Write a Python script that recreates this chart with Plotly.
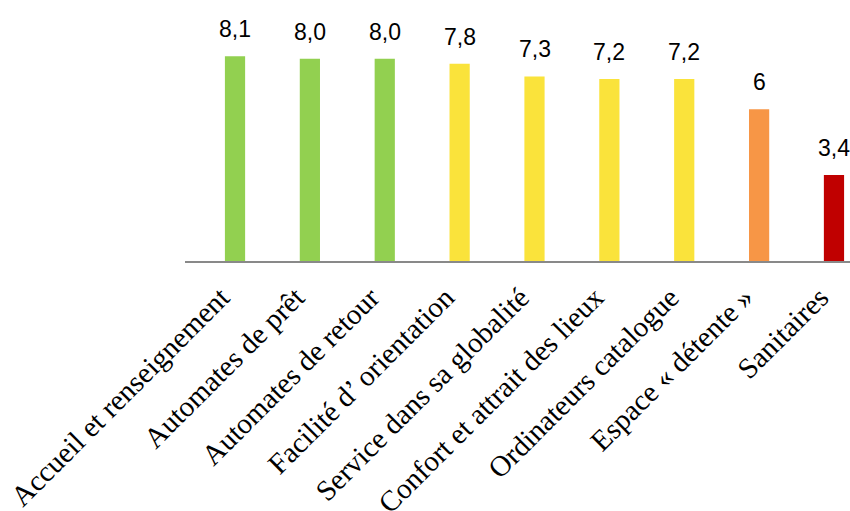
import plotly.graph_objects as go

categories = ["Accueil et renseignement", "Automates de prêt", "Automates de retour",
              "Facilité d’ orientation", "Service dans sa globalité",
              "Confort et attrait des lieux", "Ordinateurs catalogue",
              "Espace « détente »", "Sanitaires"]
values = [8.1, 8.0, 8.0, 7.8, 7.3, 7.2, 7.2, 6.0, 3.4]
value_labels = ["8,1", "8,0", "8,0", "7,8", "7,3", "7,2", "7,2", "6", "3,4"]
colors = ["#92D050", "#92D050", "#92D050", "#FAE33B", "#FAE33B", "#FAE33B",
          "#FAE33B", "#F79646", "#C00000"]

x = list(range(len(categories)))

fig = go.Figure()
fig.add_trace(go.Bar(x=x, y=values, marker=dict(color=colors, line=dict(width=0)),
                     width=0.27, hoverinfo="skip"))

for xi, v, lab in zip(x, values, value_labels):
    fig.add_annotation(x=xi, y=v, text=lab, showarrow=False, yanchor="bottom",
                       yshift=12, font=dict(family="Liberation Sans", size=23, color="#000000"))

fig.update_layout(
    width=850, height=511,
    margin=dict(l=185, r=0, t=0, b=250),
    paper_bgcolor="white", plot_bgcolor="white",
    showlegend=False,
    xaxis=dict(range=[-0.668, 8.214], tickmode="array", tickvals=x, ticktext=categories,
               tickangle=-45, showline=True, linecolor="#898989", linewidth=2,
               showgrid=False, zeroline=False, ticks="", ticklen=0, automargin=False,
               ticklabelshift=-14, ticklabelstandoff=6,
               tickfont=dict(family="Liberation Serif", size=29, color="#000000")),
    yaxis=dict(range=[0, 10.32], visible=False, showgrid=False, zeroline=False,
               automargin=False),
)

fig.write_html("out.html")
